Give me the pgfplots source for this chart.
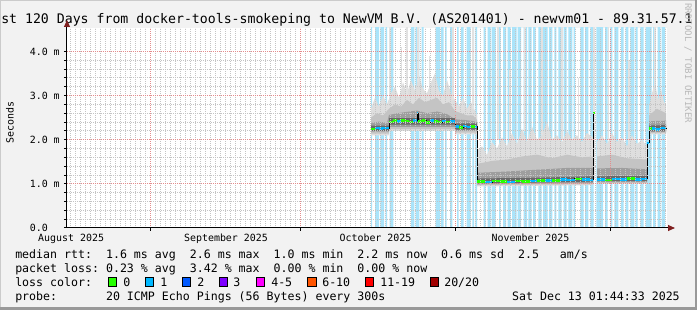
\documentclass[border=0pt]{standalone}
\usepackage{fontspec}
\setmonofont{DejaVu Sans Mono}
\usepackage{pgfplots}
\pgfplotsset{compat=1.18}
\usetikzlibrary{arrows.meta}
\frenchspacing
\definecolor{bgc}{RGB}{242,242,242}
\definecolor{shadea}{RGB}{203,203,203}
\definecolor{shadeb}{RGB}{153,153,153}
\definecolor{stripec}{RGB}{170,228,250}
\definecolor{gridc}{RGB}{196,196,196}
\definecolor{mgridc}{RGB}{228,140,140}
\definecolor{arrowred}{RGB}{127,31,31}
\definecolor{s1}{RGB}{222,222,222}
\definecolor{s2}{RGB}{196,196,196}
\definecolor{s3}{RGB}{158,158,158}
\definecolor{s4}{RGB}{105,105,105}
\definecolor{spk}{RGB}{226,226,226}
\definecolor{lc0}{RGB}{38,255,0}
\definecolor{lc1}{RGB}{0,184,255}
\definecolor{lc2}{RGB}{0,89,255}
\definecolor{lc3}{RGB}{126,0,255}
\definecolor{lc4}{RGB}{255,0,255}
\definecolor{lc6}{RGB}{255,85,0}
\definecolor{lc11}{RGB}{255,0,0}
\definecolor{lc20}{RGB}{161,0,0}
\definecolor{wmc}{RGB}{185,185,185}
\newcommand\fa{\ttfamily\fontsize{7.45pt}{9pt}\selectfont}
\newcommand\fl{\ttfamily\fontsize{8.7pt}{10pt}\selectfont}
\newcommand\ft{\ttfamily\fontsize{9.9pt}{12pt}\selectfont}
\newcommand\fw{\ttfamily\fontsize{6.8pt}{8pt}\selectfont}

\pgfplotstableread{
x y
60.8 4.6
61.0 0
61.6 4.6
62.4 0
62.66 4.6
63.4 0
63.74 4.6
64.0 0
64.54 4.6
65.26 0
68.8 4.6
69.46 0
69.74 4.6
70.46 0
70.94 4.6
71.34 0
73.74 4.6
74.6 0
74.8 4.6
75.34 0
75.6 4.6
75.94 0
76.6 4.6
77.06 0
78.0 4.6
78.34 0
78.8 4.6
79.34 0
79.94 4.6
80.74 0
81.06 4.6
81.4 0
81.66 4.6
82.0 0
83.34 4.6
83.74 0
84.14 4.6
84.74 0
84.94 4.6
85.74 0
86.4 4.6
86.74 0
87.2 4.6
87.8 0
88.14 4.6
88.74 0
89.0 4.6
89.94 0
90.14 4.6
90.8 0
91.34 4.6
92.0 0
92.26 4.6
92.94 0
93.2 4.6
93.74 0
94.26 4.6
94.94 0
95.2 4.6
96.14 0
96.4 4.6
97.06 0
97.46 4.6
97.86 0
98.26 4.6
98.94 0
99.34 4.6
99.94 0
100.26 4.6
101.06 0
101.34 4.6
101.6 0
102.66 4.6
103.34 0
103.6 4.6
104.26 0
104.66 4.6
105.34 0
105.86 4.6
107.2 0
107.6 4.6
108.14 0
108.66 4.6
109.06 0
109.46 4.6
110.26 0
110.8 4.6
111.34 0
111.74 4.6
112.26 0
112.66 4.6
113.46 0
113.74 4.6
114.14 0
114.66 4.6
115.34 0
115.74 4.6
116.94 0
117.2 4.6
117.74 0
118.14 4.6
118.66 0
118.94 4.6
119.6 0
}\stripes

\pgfplotstableread{
x y
60.8 2.24
61.6 2.27
62.4 2.25
63.2 2.27
64.0 2.26
64.4 2.40
65.2 2.43
66.0 2.41
66.8 2.44
67.6 2.42
68.4 2.40
69.2 2.43
70.0 2.60
70.2 2.41
71.0 2.43
71.8 2.39
72.6 2.43
73.4 2.41
74.2 2.40
75.0 2.42
75.8 2.40
76.6 2.41
77.6 2.30
78.4 2.28
79.2 2.31
80.0 2.29
80.8 2.30
81.6 2.29
82.0 1.05
83.5 1.04
85.0 1.06
86.5 1.05
88.0 1.04
89.5 1.06
91.0 1.05
92.5 1.06
94.0 1.07
95.5 1.08
97.0 1.07
98.5 1.10
100.0 1.09
101.5 1.11
103.0 1.10
104.5 1.09
105.2 2.60
105.6 2.60
105.7 nan
106.0 1.10
107.5 1.09
109.0 1.11
110.5 1.10
112.0 1.12
113.5 1.10
115.0 1.11
116.0 1.93
116.4 2.25
117.5 2.23
118.5 2.26
119.8 2.25
}\median

\pgfplotstableread{
x y
60.8 2.24
61.6 2.27
61.7 nan
64.4 2.40
65.2 2.43
66.0 2.41
66.1 nan
66.8 2.44
67.6 2.42
68.4 2.40
69.2 2.43
69.3 nan
70.2 2.41
71.0 2.43
71.8 2.39
72.6 2.43
72.7 nan
73.4 2.41
74.2 2.40
75.0 2.42
75.1 nan
75.8 2.40
76.6 2.41
76.7 nan
78.4 2.28
79.2 2.31
79.3 nan
80.8 2.30
81.6 2.29
81.7 nan
82.0 1.05
83.5 1.04
83.6 nan
85.0 1.06
86.5 1.05
88.0 1.04
88.1 nan
89.5 1.06
91.0 1.05
92.5 1.06
92.6 nan
94.0 1.07
95.5 1.08
95.6 nan
97.0 1.07
98.5 1.10
98.6 nan
101.5 1.11
103.0 1.10
103.1 nan
105.2 2.60
105.6 2.60
105.7 nan
107.5 1.09
109.0 1.11
109.1 nan
112.0 1.12
113.5 1.10
113.6 nan
116.4 2.25
117.0 2.23
117.1 nan
}\mediangreen

\begin{document}
\begin{tikzpicture}
\begin{scope}[x=0.75pt,y=0.75pt]
\useasboundingbox (0,0) rectangle (697,310);
\fill[bgc] (0,0) rectangle (697,310);
\fill[shadea] (0,0) rectangle (1.5,310);
\fill[shadea] (0,308.5) rectangle (697,310);
\fill[shadeb] (694.5,0) rectangle (697,310);
\fill[shadeb] (0,0) rectangle (697,2.5);
\node[anchor=base west, inner sep=0pt] at (1,286) {\ft st 120 Days from docker-tools-smokeping to NewVM B.V. (AS201401) - newvm01 - 89.31.57.1};
\node[rotate=90, inner sep=0pt] at (10,187.5) {\fa Seconds};
\node[rotate=-90, anchor=west, inner sep=0pt, text=wmc] at (688,307) {\fw RRDTOOL / TOBI OETIKER};
\node[anchor=base west, inner sep=0pt] at (15,51.5) {\fl median rtt:~~1.6 ms avg~~2.6 ms max~~1.0 ms min~~2.2 ms now~~0.6 ms sd~~2.5~~~am/s};
\node[anchor=base west, inner sep=0pt] at (15,37.5) {\fl packet loss:~0.23 \% avg~~3.42 \% max~~0.00 \% min~~0.00 \% now};
\node[anchor=base west, inner sep=0pt] at (15,23.5) {\fl loss color:};
\filldraw[fill=lc0, draw=black, line width=0.75pt] (108,23.5) rectangle (116.5,32.5);
\filldraw[fill=lc1, draw=black, line width=0.75pt] (145,23.5) rectangle (153.5,32.5);
\filldraw[fill=lc2, draw=black, line width=0.75pt] (182,23.5) rectangle (190.5,32.5);
\filldraw[fill=lc3, draw=black, line width=0.75pt] (219,23.5) rectangle (227.5,32.5);
\filldraw[fill=lc4, draw=black, line width=0.75pt] (256,23.5) rectangle (264.5,32.5);
\filldraw[fill=lc6, draw=black, line width=0.75pt] (307.5,23.5) rectangle (316,32.5);
\filldraw[fill=lc11, draw=black, line width=0.75pt] (365,23.5) rectangle (373.5,32.5);
\filldraw[fill=lc20, draw=black, line width=0.75pt] (430,23.5) rectangle (438.5,32.5);
\node[anchor=base west, inner sep=0pt] at (123,23.5) {\fl 0};
\node[anchor=base west, inner sep=0pt] at (160,23.5) {\fl 1};
\node[anchor=base west, inner sep=0pt] at (197,23.5) {\fl 2};
\node[anchor=base west, inner sep=0pt] at (233,23.5) {\fl 3};
\node[anchor=base west, inner sep=0pt] at (271,23.5) {\fl 4-5};
\node[anchor=base west, inner sep=0pt] at (322,23.5) {\fl 6-10};
\node[anchor=base west, inner sep=0pt] at (380,23.5) {\fl 11-19};
\node[anchor=base west, inner sep=0pt] at (444,23.5) {\fl 20/20};
\node[anchor=base west, inner sep=0pt] at (15,9.8) {\fl probe:~~~~~~~20 ICMP Echo Pings (56 Bytes) every 300s};
\node[anchor=base east, inner sep=0pt] at (680,9.8) {\fl Sat Dec 13 01:44:33 2025};
\end{scope}
\begin{axis}[
 at={(50.25pt,61.5pt)}, anchor=south west,
 scale only axis, width=450pt, height=150pt,
 xmin=0, xmax=120, ymin=0, ymax=4.53,
 axis lines*=left,
 axis line style={line width=0.75pt, black},
 x axis line style={-{Triangle[length=5.25pt,width=4.5pt,color=arrowred]}, shorten >=-6pt},
 y axis line style={-{Triangle[length=5.25pt,width=4.5pt,color=arrowred]}, shorten >=-6pt},
 axis background/.style={fill=white},
 axis on top,
 tick align=outside,
 major tick length=2.25pt, minor tick length=2.25pt,
 tick style={black, line width=0.75pt},
 xtick={16.7,46.7,77.6,108.6},
 xticklabels={},
 minor xtick={0.7,1.7,...,119.7},
 minor x tick style={draw=none},
 extra x ticks={0.82,31.8,61.7,92.7},
 extra x tick labels={August 2025,September 2025,October 2025,November 2025},
 extra x tick style={grid=none, xtick style={draw=none}},
 ytick={0,1,2,3,4},
 yticklabels={0.0\hphantom{0m},1.0 m,2.0 m,3.0 m,4.0 m},
 minor y tick num=4,
 xmajorgrids=true, xminorgrids=true, ymajorgrids=true, yminorgrids=true,
 major grid style={line width=0.75pt, dash pattern=on 0.75pt off 0.75pt, mgridc},
 minor grid style={line width=0.75pt, dash pattern=on 0.75pt off 0.75pt, gridc},
 xticklabel style={font=\fa, anchor=base, inner sep=0pt, yshift=-7.75pt},
 yticklabel style={font=\fa, anchor=east, inner sep=0pt, xshift=-3pt},
]
\addplot[const plot, fill=stripec, draw=none] table[x=x,y=y] {\stripes} \closedcycle;

% smoke segment A
\addplot[fill=s1, draw=none] coordinates {(60.8,2.70)(61.6,2.95)(62.4,2.75)(63.2,3.00)(64.0,2.80)(64.8,3.05)(65.6,3.20)(66.4,2.95)(67.2,3.30)(68.0,3.05)(68.8,3.35)(69.6,3.10)(70.4,3.45)(71.2,3.15)(72.0,3.05)(72.8,3.30)(73.6,3.50)(74.4,3.10)(75.2,3.00)(76.0,3.35)(76.8,3.05)(77.6,2.90)(78.4,2.75)(79.2,2.95)(80.0,2.70)(80.8,2.85)(81.6,2.65)(82.0,2.55)(82.0,2.12)(77.6,2.12)(77.6,2.20)(64.4,2.20)(64.4,2.10)(60.8,2.10)} -- cycle;
\addplot[fill=s2, draw=none] coordinates {(60.8,2.50)(62.0,2.60)(63.2,2.55)(64.4,2.70)(65.6,2.80)(66.8,2.75)(68.0,2.90)(69.2,2.80)(70.4,2.95)(71.6,2.85)(72.8,2.90)(74.0,2.95)(75.2,2.80)(76.4,2.85)(77.6,2.65)(78.8,2.60)(80.0,2.55)(81.2,2.55)(82.0,2.45)(82.0,2.16)(77.6,2.16)(77.6,2.24)(64.4,2.24)(64.4,2.14)(60.8,2.14)} -- cycle;
\addplot[fill=s3, draw=none] coordinates {(60.8,2.38)(62.4,2.41)(64.0,2.38)(64.4,2.56)(66.0,2.60)(68.0,2.63)(70.0,2.66)(72.0,2.60)(74.0,2.64)(76.0,2.58)(77.6,2.46)(79.2,2.45)(80.8,2.43)(82.0,2.40)(82.0,2.20)(77.6,2.20)(77.6,2.29)(64.4,2.29)(64.4,2.18)(60.8,2.18)} -- cycle;
\addplot[fill=s4, draw=none] coordinates {(60.8,2.32)(64.4,2.32)(64.4,2.49)(77.6,2.49)(77.6,2.37)(82.0,2.37)(82.0,2.23)(77.6,2.23)(77.6,2.34)(64.4,2.34)(64.4,2.20)(60.8,2.20)} -- cycle;
% smoke segment B
\addplot[fill=s1, draw=none] coordinates {(82.0,1.75)(83.0,1.85)(84.0,1.65)(85.0,1.95)(86.0,1.80)(87.0,2.05)(88.0,1.85)(89.0,2.15)(90.0,1.90)(91.0,2.25)(92.0,1.95)(93.0,2.30)(94.0,2.00)(95.0,2.10)(96.0,2.40)(97.0,2.00)(98.0,2.10)(99.0,1.95)(100.0,2.20)(101.0,2.00)(102.0,2.10)(103.0,1.95)(104.0,2.15)(105.2,2.05)(105.2,0.97)(82.0,0.94)} -- cycle;
\addplot[fill=s2, draw=none] coordinates {(82.0,1.45)(85.0,1.52)(88.0,1.55)(91.0,1.62)(94.0,1.66)(97.0,1.58)(100.0,1.66)(103.0,1.60)(105.2,1.62)(105.2,0.99)(82.0,0.97)} -- cycle;
\addplot[fill=s3, draw=none] coordinates {(82.0,1.25)(88.0,1.28)(94.0,1.32)(100.0,1.36)(105.2,1.36)(105.2,1.02)(82.0,0.99)} -- cycle;
\addplot[fill=s4, draw=none] coordinates {(82.0,1.12)(94.0,1.14)(105.2,1.17)(105.2,1.05)(82.0,1.01)} -- cycle;
% smoke segment C
\addplot[fill=s1, draw=none] coordinates {(106.0,1.95)(107.0,2.10)(108.0,1.90)(109.0,2.15)(110.0,1.95)(111.0,2.05)(112.0,1.85)(113.0,2.10)(114.0,1.90)(115.0,2.00)(116.0,1.85)(116.0,1.00)(106.0,1.00)} -- cycle;
\addplot[fill=s2, draw=none] coordinates {(106,1.62)(109,1.66)(112,1.58)(116,1.55)(116,1.02)(106,1.02)} -- cycle;
\addplot[fill=s3, draw=none] coordinates {(106,1.35)(111,1.36)(116,1.33)(116,1.04)(106,1.04)} -- cycle;
\addplot[fill=s4, draw=none] coordinates {(106,1.17)(116,1.18)(116,1.06)(106,1.06)} -- cycle;
% smoke segment D
\addplot[fill=s1, draw=none] coordinates {(116.4,2.75)(117.0,3.05)(117.6,3.30)(118.2,2.90)(118.8,3.15)(119.4,2.85)(119.8,2.80)(119.8,2.12)(116.4,2.12)} -- cycle;
\addplot[fill=s2, draw=none] coordinates {(116.4,2.55)(118.0,2.70)(119.8,2.60)(119.8,2.15)(116.4,2.15)} -- cycle;
\addplot[fill=s3, draw=none] coordinates {(116.4,2.42)(119.8,2.43)(119.8,2.18)(116.4,2.18)} -- cycle;
\addplot[fill=s4, draw=none] coordinates {(116.4,2.32)(119.8,2.33)(119.8,2.19)(116.4,2.19)} -- cycle;
% faint high spikes
\addplot[draw=spk, line width=1.1pt, unbounded coords=jump] coordinates {(64.6,3.0)(64.6,4.6)(64.6,nan)(66.9,3.2)(66.9,4.1)(66.9,nan)(68.0,3.0)(68.0,4.6)(68.0,nan)(70.2,3.3)(70.2,4.6)(70.2,nan)(72.5,3.2)(72.5,3.9)(72.5,nan)(77.2,2.9)(77.2,4.6)(77.2,nan)(81.2,2.7)(81.2,4.6)(81.2,nan)(86.2,2.0)(86.2,4.6)(86.2,nan)(88.6,2.0)(88.6,3.6)(88.6,nan)(91.6,2.2)(91.6,4.6)(91.6,nan)(95.0,2.1)(95.0,4.6)(95.0,nan)(99.0,2.0)(99.0,4.6)(99.0,nan)(102.3,2.0)(102.3,3.4)(102.3,nan)(105.4,1.1)(105.4,4.6)(105.4,nan)(108.3,2.0)(108.3,4.6)(108.3,nan)(112.4,1.9)(112.4,3.8)(112.4,nan)(117.6,3.2)(117.6,4.6)};
% median
\addplot[const plot, black, line width=0.75pt, unbounded coords=jump] table[x=x,y=y] {\median};
\addplot[jump mark left, lc1, line width=1.9pt, unbounded coords=jump] table[x=x,y=y] {\median};
\addplot[jump mark left, lc0, line width=1.9pt, unbounded coords=jump] table[x=x,y=y] {\mediangreen};
\end{axis}
\end{tikzpicture}
\end{document}
